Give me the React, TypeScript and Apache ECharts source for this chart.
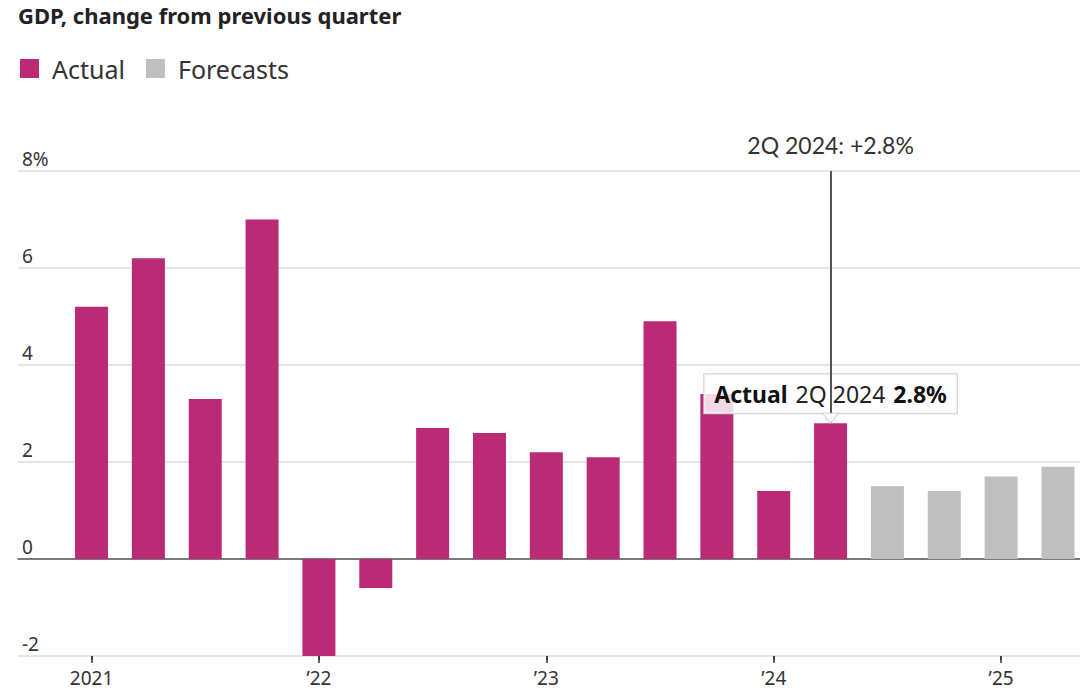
import React, { useEffect, useRef } from "react";
import * as echarts from "echarts";

const categories = [
  "1Q 2021", "2Q 2021", "3Q 2021", "4Q 2021",
  "1Q 2022", "2Q 2022", "3Q 2022", "4Q 2022",
  "1Q 2023", "2Q 2023", "3Q 2023", "4Q 2023",
  "1Q 2024", "2Q 2024", "3Q 2024", "4Q 2024",
  "1Q 2025", "2Q 2025",
];
const actualValues = [5.2, 6.2, 3.3, 7.0, -2.0, -0.6, 2.7, 2.6, 2.2, 2.1, 4.9, 3.4, 1.4, 2.8];
const forecastValues = [1.5, 1.4, 1.7, 1.9];
const yearTickLabels = ["2021", "\u201922", "\u201923", "\u201924", "\u201925"];
const yTicks = { min: -2, max: 8, interval: 2 };
const highlightIndex = 13;

const FONT = "'Noto Sans', sans-serif";
const MAGENTA = "#BB2A75";
const GREY = "#BFBFBF";
const CHART_W = 1092;

export default function App() {
  const ref = useRef<HTMLDivElement>(null);
  useEffect(() => {
    if (!ref.current) return;
    const chart = echarts.init(ref.current, undefined, { renderer: "svg" });
    const actualData = categories.map((_, i) => (i < actualValues.length ? actualValues[i] : null));
    const forecastData = categories.map((_, i) =>
      i >= actualValues.length ? forecastValues[i - actualValues.length] : null
    );
    const hName = categories[highlightIndex];
    const hVal = actualValues[highlightIndex];

    const actualSeriesData = actualData.map((v, i) =>
      i === highlightIndex
        ? {
            value: v,
            label: {
              show: true,
              position: "top",
              distance: 10,
              formatter: (p: any) => `{b|${p.seriesName}}{r|${p.name}}{b|${p.value}%}`,
              backgroundColor: "rgba(255,255,255,0.82)",
              borderColor: "#d0d0d0",
              borderWidth: 1,
              padding: [8, 10, 8, 10],
              rich: {
                b: { fontFamily: FONT, fontSize: 23, fontWeight: "bold", color: "#111" },
                r: { fontFamily: FONT, fontSize: 23, color: "#222", padding: [0, 8, 0, 8] },
              },
            },
          }
        : v
    );

    chart.setOption({
      animation: false,
      title: {
        text: "GDP, change from previous quarter",
        left: 18,
        top: 4,
        padding: 0,
        textStyle: { fontFamily: FONT, fontSize: 22, fontWeight: "bold", color: "#222" },
      },
      legend: {
        left: 20,
        top: 56,
        padding: 0,
        itemWidth: 19,
        itemHeight: 19,
        itemGap: 21,
        icon: "rect",
        data: ["Actual", "Forecasts"],
        textStyle: { fontFamily: FONT, fontSize: 25, color: "#333", padding: [0, 0, 0, 8] },
      },
      grid: [
        { left: 18, right: CHART_W - 1080, top: 171, bottom: 42 },
        { left: 63.1, width: 1023.3, top: 171, bottom: 42 },
      ],
      xAxis: [
        {
          type: "value",
          gridIndex: 0,
          min: 0,
          max: 1,
          axisLine: { show: true, onZero: true, lineStyle: { color: "#555", width: 1.6 } },
          axisTick: { show: false },
          axisLabel: { show: false },
          splitLine: { show: false },
        },
        {
          type: "category",
          gridIndex: 1,
          position: "bottom",
          data: categories,
          axisLine: { show: false, onZero: false },
          axisTick: {
            show: true,
            alignWithLabel: true,
            length: 4,
            lineStyle: { color: "#333", width: 1.5 },
          },
          axisLabel: {
            interval: (i: number) => i % 4 === 0,
            formatter: (_v: string, i: number) => yearTickLabels[Math.floor(i / 4)] ?? "",
            fontFamily: FONT,
            fontSize: 19,
            color: "#333",
            margin: 12,
          },
        },
        {
          type: "category",
          gridIndex: 1,
          position: "bottom",
          data: categories,
          axisLine: { show: false, onZero: false },
          axisTick: {
            show: true,
            alignWithLabel: true,
            interval: (i: number) => i % 4 === 0,
            length: 7,
            lineStyle: { color: "#333", width: 1.5 },
          },
          axisLabel: { show: false },
        },
      ],
      yAxis: [
        {
          type: "value",
          gridIndex: 0,
          min: yTicks.min,
          max: yTicks.max,
          interval: yTicks.interval,
          axisLine: { show: false },
          axisTick: { show: false },
          splitLine: { show: true, lineStyle: { color: "#dcdcdc", width: 1.5 } },
          axisLabel: {
            inside: true,
            align: "left",
            verticalAlign: "bottom",
            margin: 4,
            padding: [0, 0, 3, 0],
            fontFamily: FONT,
            fontSize: 19,
            color: "#333",
            formatter: (v: number) => (v === yTicks.max ? `${v}%` : `${v}`),
          },
        },
        {
          type: "value",
          gridIndex: 1,
          min: yTicks.min,
          max: yTicks.max,
          interval: yTicks.interval,
          show: false,
          splitLine: { show: false },
        },
      ],
      series: [
        {
          name: "Actual",
          type: "bar",
          xAxisIndex: 1,
          yAxisIndex: 1,
          stack: "q",
          barWidth: 33,
          data: actualSeriesData,
          itemStyle: { color: MAGENTA },
          markLine: {
            silent: true,
            symbol: ["none", "none"],
            lineStyle: { color: "#555", width: 2, type: "solid" },
            label: {
              show: true,
              position: "end",
              distance: 15,
              formatter: () => `${hName}: +${hVal}%`,
              fontFamily: "Lato, 'Noto Sans', sans-serif",
              fontSize: 23,
              color: "#333",
            },
            data: [[{ coord: [highlightIndex, hVal] }, { coord: [highlightIndex, yTicks.max] }]],
          },
          markPoint: {
            silent: true,
            data: [
              {
                coord: [highlightIndex, hVal],
                symbol: "triangle",
                symbolRotate: 180,
                symbolSize: [16, 10],
                symbolOffset: [0, -5],
                itemStyle: { color: "rgba(255,255,255,0.95)", borderColor: "#d0d0d0", borderWidth: 1 },
                label: { show: false },
              },
            ],
          },
        },
        {
          name: "Forecasts",
          type: "bar",
          xAxisIndex: 1,
          yAxisIndex: 1,
          stack: "q",
          barWidth: 33,
          data: forecastData,
          itemStyle: { color: GREY },
        },
      ],
    });
    return () => chart.dispose();
  }, []);
  return (
    <div
      style={{
        position: "absolute",
        left: 0,
        top: 0,
        width: 1080,
        height: 698,
        overflow: "hidden",
        background: "#fff",
      }}
    >
      <div ref={ref} style={{ width: CHART_W, height: 698 }} />
    </div>
  );
}
